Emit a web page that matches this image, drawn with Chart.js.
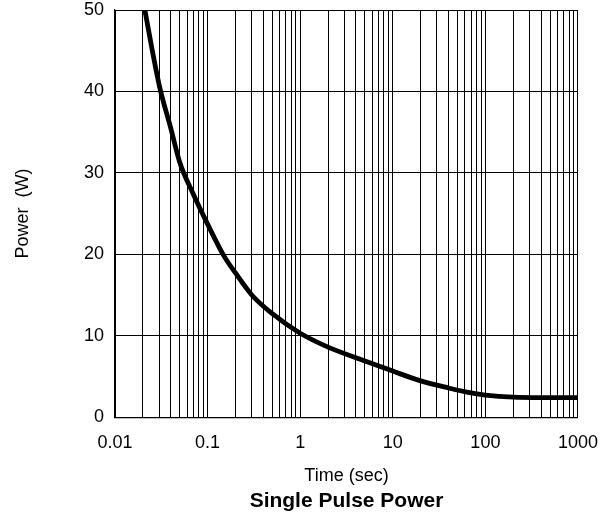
<!DOCTYPE html>
<html>
<head>
<meta charset="utf-8">
<script src="https://cdn.jsdelivr.net/npm/chart.js@4"></script>
<style>
  body { margin: 0; background: #fff; }
  #wrap { width: 613px; height: 519px; }
</style>
</head>
<body>
<div id="wrap"><canvas id="grafico" width="613" height="519"></canvas></div>
<script>
// datos
const tiempos = [0.02, 0.03, 0.04, 0.05, 0.07, 0.1, 0.15, 0.2, 0.3, 0.5, 1, 2, 5, 10, 20, 40, 70, 100, 200, 500, 1000];
const potencia = [51.3, 40.8, 35.5, 31.3, 27.4, 23.7, 19.8, 17.7, 15.0, 12.7, 10.3, 8.6, 6.9, 5.65, 4.45, 3.58, 2.97, 2.7, 2.45, 2.39, 2.38];

// ticks del eje x (décadas y divisiones menores)
const decadas = [0.01, 0.1, 1, 10, 100];
const multiplos = [1, 2, 3, 4, 5, 6, 7, 8, 9];
const etiquetasX = ['0.01', '0.1', '1', '10', '100', '1000'];
const ticksY = [0, 10, 20, 30, 40, 50];

const ticksX = [];
decadas.forEach(d => multiplos.forEach(m => ticksX.push(+(d * m).toPrecision(3))));
ticksX.push(1000);

const fuente = 'Liberation Sans, Arial, Helvetica, sans-serif';

new Chart(document.getElementById('grafico').getContext('2d'), {
  type: 'line',
  data: {
    datasets: [{
      data: tiempos.map((t, i) => ({ x: t, y: potencia[i] })),
      borderColor: '#000',
      borderWidth: 4.8,
      pointRadius: 0,
      fill: false,
      cubicInterpolationMode: 'monotone'
    }]
  },
  options: {
    responsive: false,
    devicePixelRatio: 1,
    animation: false,
    layout: { padding: { top: 0, right: 34, left: 0, bottom: 0 } },
    plugins: {
      legend: { display: false },
      tooltip: { enabled: false },
      title: {
        display: true,
        position: 'bottom',
        fullSize: false,
        text: 'Single Pulse Power',
        color: '#000',
        font: { family: fuente, size: 21, weight: 'bold' },
        padding: { top: 0, bottom: 5.6 }
      }
    },
    scales: {
      x: {
        type: 'logarithmic',
        min: 0.01,
        max: 1000,
        afterBuildTicks: s => { s.ticks = ticksX.map(v => ({ value: v })); },
        afterFit: s => { s.height = 71.1; },
        ticks: {
          autoSkip: false,
          maxRotation: 0,
          padding: 15,
          color: '#000',
          font: { family: fuente, size: 18 },
          callback: v => {
            const i = [...decadas, 1000].findIndex(d => Math.abs(d - v) < d * 1e-6);
            return i >= 0 ? etiquetasX[i] : '';
          }
        },
        grid: { color: '#000', lineWidth: 1, drawTicks: false },
        border: { color: '#000', width: 1.2 },
        title: {
          display: true,
          text: 'Time (sec)',
          color: '#000',
          font: { family: fuente, size: 18 },
          padding: { top: 0, bottom: 1.8 }
        }
      },
      y: {
        min: 0,
        max: 50,
        afterBuildTicks: s => { s.ticks = ticksY.map(v => ({ value: v })); },
        afterFit: s => { s.width = 115; s.paddingTop = 10; s.paddingBottom = 0; },
        ticks: {
          padding: 11,
          color: '#000',
          font: { family: fuente, size: 18 }
        },
        grid: { color: '#000', lineWidth: 1, drawTicks: false },
        border: { color: '#000', width: 1.2 },
        title: {
          display: true,
          text: 'Power  (W)',
          color: '#000',
          font: { family: fuente, size: 18 },
          padding: { top: 12.7, bottom: 0 }
        }
      }
    }
  }
});
</script>
</body>
</html>
